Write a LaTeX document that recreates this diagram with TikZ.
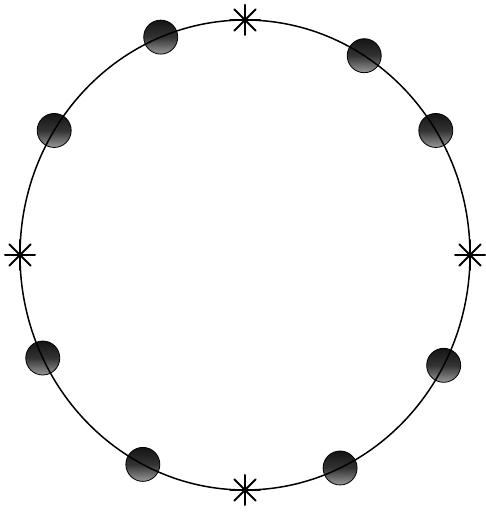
\documentclass[tikz,border=0pt]{standalone}
\usepackage{tikz}
\usetikzlibrary{calc}
\tikzset{
  ring/.style  ={draw=black, line width=1.5pt},
  bead/.style  ={circle, draw=black, line width=0.8pt, minimum size=34pt,
                 inner sep=0pt, top color=black!92, bottom color=black!40,
                 middle color=black!80},
  spark/.style ={minimum size=32pt, inner sep=0pt,
                 path picture={
                   \foreach \a in {0,45,90,135}
                     \draw[line width=2pt, line cap=round]
                       ($(path picture bounding box.center)+(\a:15pt)$) --
                       ($(path picture bounding box.center)+(\a+180:15pt)$);
                 }},
}

\begin{document}
\begin{tikzpicture}[x=1pt, y=1pt]
  \useasboundingbox (0,0) rectangle (485,516);
  \coordinate (ctr) at (245,261);

  % eight beads
  \foreach \name/\ang in {b1/112, b2/58, b3/32, b4/148,
                          b5/206, b6/-28, b7/243, b8/-65}
    \node[bead] (\name) at ($(ctr)+(\ang:225 and 235)$) {};

  % the ring, over the beads
  \draw[ring] (ctr) ellipse [x radius=225, y radius=235];

  % four sparks on the axes
  \node[spark] (sN) at ($(ctr)+(90:225 and 235)$) {};
  \node[spark] (sW) at ($(ctr)+(180:225 and 235)$) {};
  \node[spark] (sS) at ($(ctr)+(270:225 and 235)$) {};
  \node[spark] (sE) at ($(ctr)+(0:225 and 235)$) {};
\end{tikzpicture}
\end{document}
